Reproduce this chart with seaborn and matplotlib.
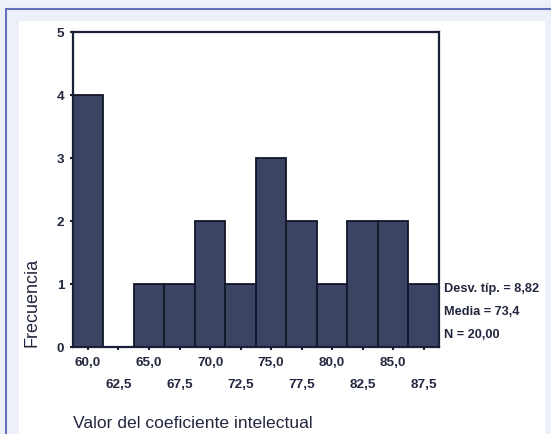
import matplotlib
matplotlib.use("Agg")
import matplotlib.pyplot as plt
import seaborn as sns
import pandas as pd
from matplotlib.patches import Rectangle
from matplotlib.lines import Line2D
from matplotlib.ticker import FixedLocator, FixedFormatter

# Data (bin centres and frequencies)
bin_centres = [60.0, 62.5, 65.0, 67.5, 70.0, 72.5, 75.0, 77.5, 80.0, 82.5, 85.0, 87.5]
counts = [4, 0, 1, 1, 2, 1, 3, 2, 1, 2, 2, 1]
major_ticks = [60.0, 65.0, 70.0, 75.0, 80.0, 85.0]
minor_ticks = [62.5, 67.5, 72.5, 77.5, 82.5, 87.5]
stats_lines = ["Desv. típ. = 8,82", "Media = 73,4", "N = 20,00"]

df = pd.DataFrame({"ci": bin_centres, "n": counts})

sns.set_style("white")
plt.rcParams["font.family"] = ["Liberation Sans", "DejaVu Sans"]

W, H = 551, 434
fig = plt.figure(figsize=(W / 100, H / 100), dpi=100)
fig.patch.set_facecolor("#edf0f8")

# white panel and blue frame like the original page
fig.patches.append(Rectangle((19 / W, 0), (545 - 19) / W, 1 - 21 / H,
                             transform=fig.transFigure, facecolor="white",
                             edgecolor="none", zorder=-2))
fig.lines.append(Line2D([5.5 / W, 1], [1 - 8.5 / H, 1 - 8.5 / H],
                        transform=fig.transFigure, color="#6670b8", lw=1.5, zorder=-1))
fig.lines.append(Line2D([5.5 / W, 5.5 / W], [0, 1 - 8.5 / H],
                        transform=fig.transFigure, color="#6670b8", lw=1.5, zorder=-1))

ax = fig.add_axes([72.7 / W, 1 - 347.3 / H, (439 - 72.7) / W, (347.3 - 32.3) / H])
ax.set_facecolor("white")

sns.histplot(data=df, x="ci", weights="n", binwidth=2.5, binrange=(58.75, 88.75), ax=ax,
             color="#3b4563", edgecolor="#111628", linewidth=1.3, alpha=1)

ax.set_xlim(58.75, 88.75)
ax.set_ylim(0, 5)
ax.set_yticks([0, 1, 2, 3, 4, 5])

ink = "#22273f"
for s in ax.spines.values():
    s.set_visible(True)
    s.set_color("#1a1f38")
    s.set_linewidth(1.6)

ax.xaxis.set_major_locator(FixedLocator(major_ticks))
ax.xaxis.set_major_formatter(FixedFormatter([f"{v:.1f}".replace(".", ",") for v in major_ticks]))
ax.xaxis.set_minor_locator(FixedLocator(minor_ticks))
ax.xaxis.set_minor_formatter(FixedFormatter([f"{v:.1f}".replace(".", ",") for v in minor_ticks]))

ax.tick_params(axis="x", which="major", direction="out", length=2.5, width=1.5,
               color="#1a1f38", pad=4.5, labelsize=9.7, labelcolor=ink, bottom=True)
ax.tick_params(axis="x", which="minor", direction="out", length=2.5, width=1.5,
               color="#1a1f38", pad=20, labelsize=9.7, labelcolor=ink, bottom=True)
ax.tick_params(axis="y", direction="out", length=2.5, width=1.5, color="#1a1f38",
               pad=3.5, labelsize=9.7, labelcolor=ink, left=True)
for lab in ax.get_xticklabels(which="both") + ax.get_yticklabels():
    lab.set_fontweight("bold")

ax.set_ylabel("")
ax.set_xlabel("Valor del coeficiente intelectual", fontsize=12.6, color=ink, loc="left")
ax.xaxis.set_label_coords(0, -(416 - 347.3) / 315)

fig.text(32 / W, 1 - 347 / H, "Frecuencia", rotation=90, ha="center", va="bottom",
         fontsize=13, color=ink)

for i, line in enumerate(stats_lines):
    fig.text(444 / W, 1 - (289 + 23 * i) / H, line, ha="left", va="center",
             fontsize=9.2, fontweight="bold", color=ink)

fig.savefig("out.png", dpi=100, facecolor=fig.get_facecolor())
